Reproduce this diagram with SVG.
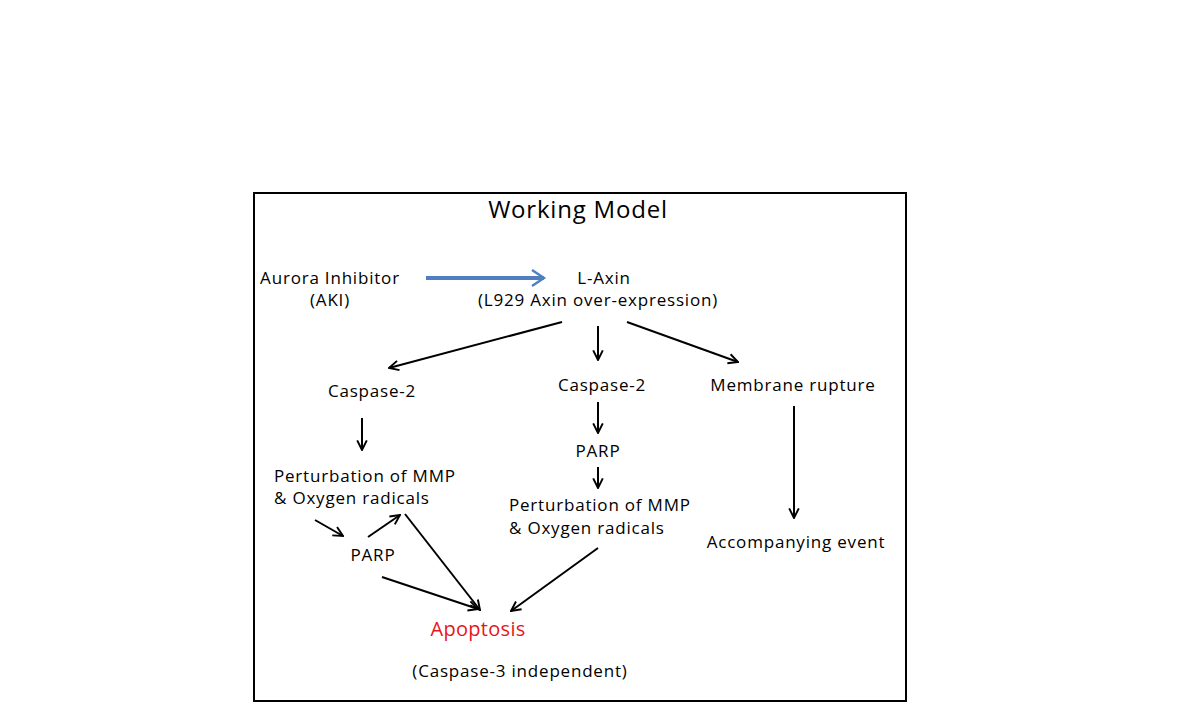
<svg xmlns="http://www.w3.org/2000/svg" width="1190" height="716" viewBox="0 0 1190 716">
<defs>
<marker id="ah" viewBox="0 0 10 10" refX="9" refY="5" markerWidth="6" markerHeight="6" markerUnits="strokeWidth" orient="auto"><path d="M1,1 L9,5 L1,9" fill="none" stroke="#000" stroke-width="1.6"/></marker>
<marker id="ahb" viewBox="0 0 10 10" refX="8" refY="5" markerWidth="5" markerHeight="5" markerUnits="strokeWidth" orient="auto"><path d="M2,1 L8,5 L2,9" fill="none" stroke="#4f7fc0" stroke-width="1.2"/></marker>
</defs>
<style>
text{font-family:"Open Sans","Noto Sans",sans-serif;font-size:17px;letter-spacing:0.8px;fill:#000}
.c{text-anchor:middle}
.ln{stroke:#000;stroke-width:2;fill:none;marker-end:url(#ah)}
</style>
<rect x="0" y="0" width="1190" height="716" fill="#fff"/>
<rect x="254" y="193" width="652" height="508" fill="none" stroke="#000" stroke-width="2"/>
<g id="title"><text x="578" y="218" class="c" style="font-size:24px">Working Model</text></g>
<g id="aki"><text x="330" y="284" class="c">Aurora Inhibitor</text><text x="330" y="306" class="c">(AKI)</text></g>
<g id="laxin"><text x="604" y="284" class="c">L-Axin</text><text x="598" y="306" class="c">(L929 Axin over-expression)</text></g>
<g id="casp2a"><text x="372" y="397" class="c">Caspase-2</text></g>
<g id="mmpa"><text x="274" y="482">Perturbation of MMP</text><text x="274" y="504">&amp; Oxygen radicals</text></g>
<g id="parpa"><text x="373" y="561" class="c">PARP</text></g>
<g id="casp2b"><text x="602" y="391" class="c">Caspase-2</text></g>
<g id="parpb"><text x="598" y="457" class="c">PARP</text></g>
<g id="mmpb"><text x="509" y="511">Perturbation of MMP</text><text x="509" y="534">&amp; Oxygen radicals</text></g>
<g id="membrane"><text x="793" y="391" class="c">Membrane rupture</text></g>
<g id="accomp"><text x="796" y="548" class="c">Accompanying event</text></g>
<g id="apoptosis"><text x="478" y="636" class="c" style="font-size:20px;fill:#e8141c;letter-spacing:0.3px">Apoptosis</text><text x="520" y="677" class="c">(Caspase-3 independent)</text></g>
<g id="connectors">
<line x1="426" y1="278" x2="544" y2="278" stroke="#4f7fc0" stroke-width="4" marker-end="url(#ahb)"/>
<line class="ln" x1="562" y1="322" x2="389" y2="368"/>
<line class="ln" x1="598" y1="326" x2="598" y2="360"/>
<line class="ln" x1="627" y1="322" x2="738" y2="362"/>
<line class="ln" x1="362" y1="418" x2="362" y2="450"/>
<line class="ln" x1="315" y1="520" x2="343" y2="536"/>
<line class="ln" x1="368" y1="537" x2="400" y2="515"/>
<line class="ln" x1="382" y1="577" x2="478" y2="609"/>
<line class="ln" x1="405" y1="514" x2="480" y2="610"/>
<line class="ln" x1="598" y1="402" x2="598" y2="433"/>
<line class="ln" x1="598" y1="467" x2="598" y2="488"/>
<line class="ln" x1="598" y1="548" x2="511" y2="611"/>
<line class="ln" x1="794" y1="406" x2="794" y2="518"/>
</g>
</svg>
